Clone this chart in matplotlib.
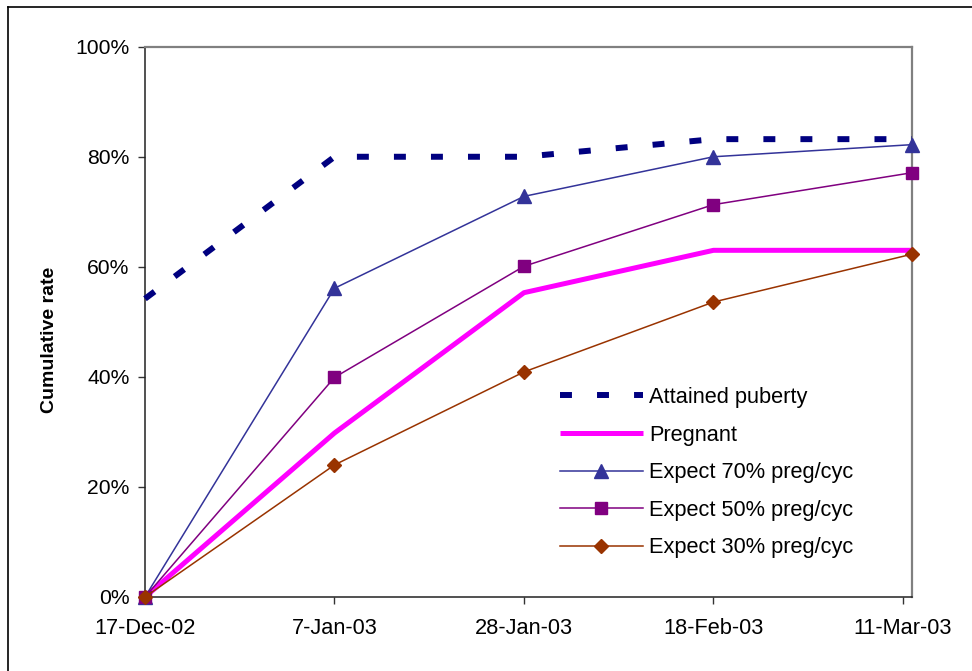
import datetime as dt
import matplotlib
matplotlib.use("Agg")
import matplotlib.pyplot as plt
import matplotlib.dates as mdates
from matplotlib.lines import Line2D
from matplotlib.ticker import FuncFormatter

plt.rcParams['font.family'] = ['Liberation Sans', 'DejaVu Sans']

# sample dates and cumulative rates (%)
dates = [dt.date(2002, 12, 17), dt.date(2003, 1, 7), dt.date(2003, 1, 28),
         dt.date(2003, 2, 18), dt.date(2003, 3, 12)]
tick_dates = [dt.date(2002, 12, 17), dt.date(2003, 1, 7), dt.date(2003, 1, 28),
              dt.date(2003, 2, 18), dt.date(2003, 3, 11)]
tick_labels = ["17-Dec-02", "7-Jan-03", "28-Jan-03", "18-Feb-03", "11-Mar-03"]

puberty = [54.2, 80.0, 80.0, 83.2, 83.2]
pregnant = [0.0, 29.8, 55.3, 63.0, 63.0]
exp70 = [0.0, 56.1, 72.8, 80.0, 82.2]
exp50 = [0.0, 39.9, 60.1, 71.3, 77.1]
exp30 = [0.0, 24.0, 40.9, 53.6, 62.3]

fig = plt.figure(figsize=(9.72, 6.71), dpi=100)
ax = fig.add_axes([145 / 972, 1 - 597 / 671, (912 - 145) / 972, (597 - 46.7) / 671])

ax.plot(dates, puberty, color="#000080", lw=4.3, dashes=(2, 4.2),
        dash_capstyle="butt", label="Attained puberty", clip_on=False, zorder=5)
ax.plot(dates, pregnant, color="#FF00FF", lw=3.6, solid_capstyle="butt",
        label="Pregnant", clip_on=False, zorder=5)
ax.plot(dates, exp70, color="#333399", lw=1.1, marker="^", ms=10,
        label="Expect 70% preg/cyc", clip_on=False, zorder=6)
ax.plot(dates, exp50, color="#800080", lw=1.1, marker="s", ms=9,
        label="Expect 50% preg/cyc", clip_on=False, zorder=6)
ax.plot(dates, exp30, color="#993300", lw=1.1, marker="D", ms=7,
        label="Expect 30% preg/cyc", clip_on=False, zorder=7)

ax.set_xlim(mdates.date2num(dates[0]), mdates.date2num(dates[-1]))
ax.set_ylim(0, 100)
ax.set_xticks(mdates.date2num(tick_dates))
ax.set_xticklabels(tick_labels)
ax.set_yticks(range(0, 101, 20))
ax.yaxis.set_major_formatter(FuncFormatter(lambda v, p: f"{v:.0f}%"))
ax.tick_params(axis="both", direction="out", length=5, width=1, color="#333333")
ax.tick_params(axis="y", pad=6, labelsize=15.2)
ax.tick_params(axis="x", pad=10, labelsize=15.7)

for side in ("left", "bottom"):
    ax.spines[side].set_color("#222222")
    ax.spines[side].set_linewidth(1.1)
for side in ("top", "right"):
    ax.spines[side].set_color("#808080")
    ax.spines[side].set_linewidth(1.6)

fig.text(49 / 972, 1 - 340 / 671, "Cumulative rate", rotation=90,
         fontsize=14, fontweight="bold", ha="center", va="center")

ax.legend(loc="upper left", bbox_to_anchor=(560 / 972, 1 - 387 / 671),
          bbox_transform=fig.transFigure, frameon=False, fontsize=15.7,
          handlelength=3.8, handletextpad=0.3, labelspacing=0.76,
          borderpad=0, borderaxespad=0)

# outer chart border
fig.add_artist(Line2D([8 / 972, 8 / 972], [0, 1 - 6.5 / 671], color="black",
                      lw=1.2, transform=fig.transFigure))
fig.add_artist(Line2D([8 / 972, 1], [1 - 6.5 / 671, 1 - 6.5 / 671], color="black",
                      lw=1.2, transform=fig.transFigure))

fig.savefig("out.png", dpi=100)
